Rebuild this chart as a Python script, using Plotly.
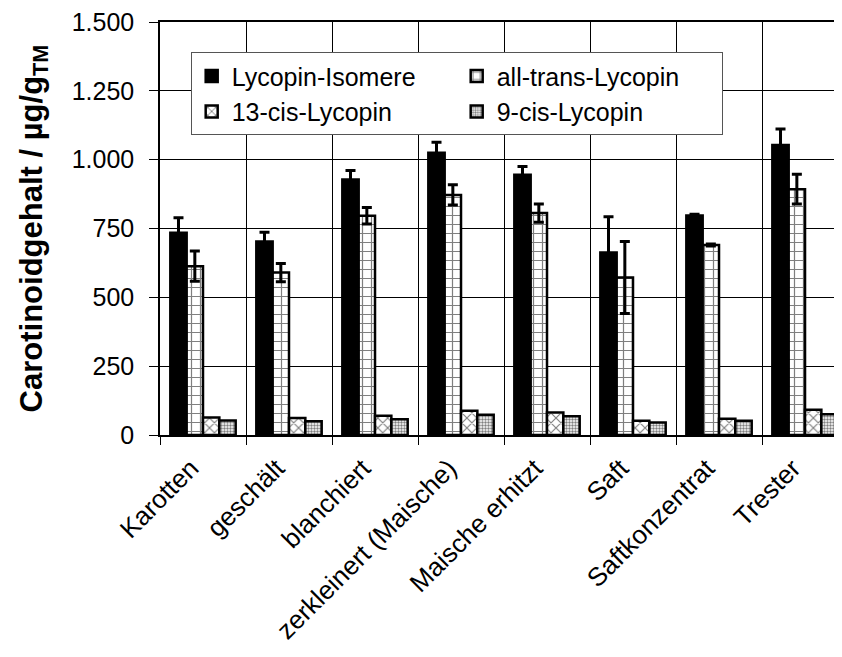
import plotly.graph_objects as go

categories = ["Karotten", "geschält", "blanchiert", "zerkleinert (Maische)",
              "Maische erhitzt", "Saft", "Saftkonzentrat", "Trester"]
lycopin_isomere = [735, 703, 928, 1025, 945, 663, 797, 1053]
lycopin_isomere_err = [54, 33, 33, 38, 30, 130, 5, 58]
all_trans = [613, 590, 796, 872, 806, 572, 690, 893]
all_trans_err = [55, 33, 30, 37, 33, 131, 4, 54]
cis13 = [64, 62, 70, 88, 82, 52, 59, 92]
cis9 = [53, 50, 57, 74, 68, 45, 52, 75]
y_tickvals = [0, 250, 500, 750, 1000, 1250, 1500]
y_ticktext = ["0", "250", "500", "750", "1.000", "1.250", "1.500"]

FONT = "Liberation Sans, Arial, sans-serif"
line = dict(color="black", width=2.5)
err = lambda e: dict(type="data", array=e, symmetric=True, color="black", thickness=3, width=5, visible=True)

fig = go.Figure()
fig.add_trace(go.Bar(name="Lycopin-Isomere", x=categories, y=lycopin_isomere,
                     marker=dict(color="black", line=line), error_y=err(lycopin_isomere_err)))
fig.add_trace(go.Bar(name="all-trans-Lycopin", x=categories, y=all_trans,
                     marker=dict(color="white", line=line,
                                 pattern=dict(shape="+", fgcolor="black", bgcolor="white", size=9, solidity=0.25)),
                     error_y=err(all_trans_err)))
fig.add_trace(go.Bar(name="13-cis-Lycopin", x=categories, y=cis13,
                     marker=dict(color="white", line=line,
                                 pattern=dict(shape="x", fgcolor="black", bgcolor="white", size=7, solidity=0.3))))
fig.add_trace(go.Bar(name="9-cis-Lycopin", x=categories, y=cis9,
                     marker=dict(color="white", line=line,
                                 pattern=dict(shape=".", fgcolor="black", bgcolor="white", size=3, solidity=0.5))))

fig.update_layout(
    width=834, height=649,
    margin=dict(l=152, r=0, t=14, b=222, autoexpand=False),
    paper_bgcolor="white", plot_bgcolor="white",
    font=dict(family=FONT, size=25, color="black"),
    barmode="group", bargap=0.24, bargroupgap=0,
    showlegend=True,
    legend=dict(x=0.045, y=0.927, xanchor="left", yanchor="top",
                orientation="h", entrywidth=220, entrywidthmode="pixels",
                bgcolor="white", bordercolor="#555555", borderwidth=1,
                font=dict(size=25, family=FONT), traceorder="normal",
                itemwidth=30, tracegroupgap=0),
)
fig.update_xaxes(
    type="category", range=[-0.5, 7.43], tickson="boundaries",
    showgrid=True, gridcolor="black", gridwidth=1,
    showline=True, linecolor="black", linewidth=1.5, mirror=True,
    ticks="outside", ticklen=8, tickcolor="black",
    tickangle=-45, tickfont=dict(size=26, family=FONT),
    ticklabelstandoff=6, ticklabelshift=-12, ticklabeloverflow="allow",
)
fig.update_yaxes(
    range=[0, 1500], tickvals=y_tickvals, ticktext=y_ticktext,
    showgrid=True, gridcolor="black", gridwidth=1,
    showline=True, linecolor="black", linewidth=1.5,
    ticks="outside", ticklen=9, tickcolor="black",
    tickfont=dict(size=25, family=FONT), zeroline=False, ticklabelstandoff=10,
    ticklabeloverflow="allow",
    title=dict(text="<b>Carotinoidgehalt / µg/g<sub>TM</sub></b>", font=dict(size=31, family=FONT), standoff=20),
)

fig.write_html("out.html")
